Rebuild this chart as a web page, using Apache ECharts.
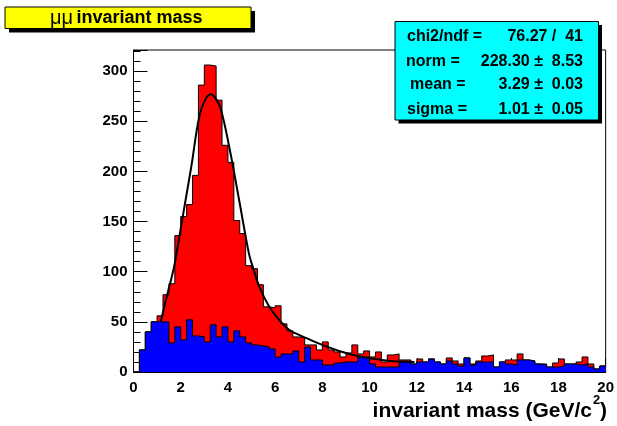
<!DOCTYPE html>
<html><head><meta charset="utf-8">
<script src="https://cdn.jsdelivr.net/npm/echarts@6/dist/echarts.min.js"></script>
<style>html,body{margin:0;padding:0;background:#fff}#c{width:617px;height:426px}</style>
</head><body><div id="c"></div>
<script>
// ---- data ----
const binWidth = 0.25; // GeV, 80 bins over 0..20
const totalCounts = [0,22,40,50,56,77,88,136,155,167,
  196,286,306,305,271,226,209,151,138,106,
  103,87,65,64,66,48,41,35,34,27,
  27,22,30,22,20,15,19,27,18,21,
  15,20,10,17,18,12,12,8,13,10,
  13,10,8,14,11,8,14,8,11,16,
  17,5,10,12,12,18,12,11,8,8,
  5,9,13,8,8,10,15,8,3,6];
const blueCounts = [0,22,40,50,50,50,29,45,32,52,
  36,35,30,47,35,45,30,41,35,29,
  27,26,25,23,15,18,18,21,10,25,
  12,12,7,7,9,10,10,10,15,15,
  8,5,5,5,5,10,10,8,10,10,
  13,10,8,11,8,6,14,7,10,10,
  10,5,10,8,7,12,12,11,8,7,
  5,5,6,8,8,7,8,5,3,6];
const fitX = [1.15,1.44,1.72,2.0,2.21,2.45,2.79,3.05,3.28,3.5,3.7,4.05,4.47,4.89,5.05,5.33,5.75,6.17,6.59,7.01,7.3,8.0,8.85,9.69,10.53,11.2,11.9];
const fitY = [50,78,105,143,172,205,255,272,277,272,262,225,172,118,105,85,65,52,42,37,34,27,20,15,12,10.5,10];
const xTickValues = [0,2,4,6,8,10,12,14,16,18,20];
const yTickValues = [0,50,100,150,200,250,300];
const statsLabels = ['chi2/ndf =','norm =','mean =','sigma ='];
const statsValues = ['76.27 /  41','228.30 \u00b1  8.53','3.29 \u00b1  0.03','1.01 \u00b1  0.05'];

const FONT = '"Liberation Sans", Arial, Helvetica, sans-serif';
function stepData(counts){
  const d = counts.map((v,i)=>[i*binWidth, v]);
  d.push([counts.length*binWidth, counts[counts.length-1]]);
  return d;
}
const fitData = fitX.map((x,i)=>[x, fitY[i]]);

const chart = echarts.init(document.getElementById('c'), null, {renderer:'canvas'});
const statsLeft = [407, 406, 410, 407];
const statsY = [36.7, 61.7, 85, 110];
const graphics = [
  // title box
  {type:'rect', shape:{x:9,y:11,width:246,height:21.5}, style:{fill:'#000'}, z:100},
  {type:'rect', shape:{x:5,y:7,width:246,height:21.5}, style:{fill:'#ffff00', stroke:'#000', lineWidth:1}, z:101},
  {type:'text', x:50, y:18, z:102, style:{text:'{m|\u03bc\u03bc} {b|invariant mass}', verticalAlign:'middle',
     rich:{m:{fontFamily:FONT, fontSize:20, fill:'#000'}, b:{fontFamily:FONT, fontSize:18, fontWeight:'bold', fill:'#000'}}}},
  // stats box
  {type:'rect', shape:{x:398.5,y:25,width:203.5,height:98.5}, style:{fill:'#000'}, z:100},
  {type:'rect', shape:{x:395,y:21.5,width:203.5,height:98.5}, style:{fill:'#00ffff', stroke:'#000', lineWidth:1}, z:101},
  // axis title
  {type:'text', x:592, y:411, z:102, style:{text:'invariant mass (GeV/c', align:'right', verticalAlign:'middle', font:'bold 21px '+FONT, fill:'#000'}},
  {type:'text', x:593, y:400, z:102, style:{text:'2', align:'left', verticalAlign:'middle', font:'bold 13px '+FONT, fill:'#000'}},
  {type:'text', x:600, y:411, z:102, style:{text:')', align:'left', verticalAlign:'middle', font:'bold 21px '+FONT, fill:'#000'}}
];
statsLabels.forEach((t,i)=>{
  graphics.push({type:'text', x:statsLeft[i], y:statsY[i], z:102, style:{text:t, align:'left', verticalAlign:'middle', font:'bold 16px '+FONT, fill:'#000'}});
  graphics.push({type:'text', x:583, y:statsY[i], z:102, style:{text:statsValues[i], align:'right', verticalAlign:'middle', font:'bold 16px '+FONT, fill:'#000'}});
});

chart.setOption({
  animation:false,
  backgroundColor:'#fff',
  grid:{left:133.5, right:8.5, top:50, bottom:54, show:true, borderColor:'#000', borderWidth:1, containLabel:false},
  xAxis:{type:'value', min:0, max:20, interval:2,
    axisLine:{show:true, lineStyle:{color:'#000'}},
    axisTick:{show:true, inside:true, length:14, lineStyle:{color:'#000'}},
    splitLine:{show:false},
    axisLabel:{color:'#000', fontSize:15, fontWeight:'bold', fontFamily:FONT, margin:8,
      formatter:v=> xTickValues.indexOf(v)>=0 ? String(v) : ''}},
  yAxis:{type:'value', min:0, max:321, interval:50,
    axisLine:{show:true, lineStyle:{color:'#000'}},
    axisTick:{show:true, inside:true, length:14, lineStyle:{color:'#000'}},
    minorTick:{show:true, splitNumber:5, length:7, lineStyle:{color:'#000'}},
    splitLine:{show:false},
    axisLabel:{color:'#000', fontSize:15, fontWeight:'bold', fontFamily:FONT, margin:6, showMaxLabel:false,
      formatter:v=> yTickValues.indexOf(v)>=0 ? String(v) : ''}},
  series:[
    {type:'line', step:'end', data:stepData(totalCounts), symbol:'none', z:2,
      lineStyle:{color:'#000', width:1}, areaStyle:{color:'#ff0000', opacity:1}},
    {type:'line', step:'end', data:stepData(blueCounts), symbol:'none', z:3,
      lineStyle:{color:'#000', width:1}, areaStyle:{color:'#0000ff', opacity:1}},
    {type:'line', data:fitData, symbol:'none', smooth:0.4, z:4,
      lineStyle:{color:'#000', width:2}}
  ],
  graphic:graphics
});
</script></body></html>
